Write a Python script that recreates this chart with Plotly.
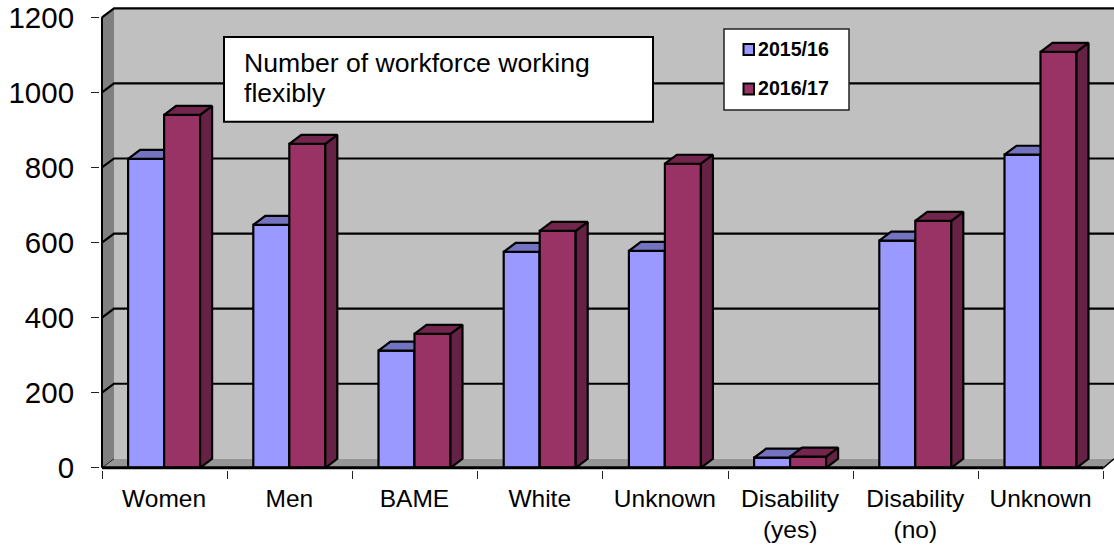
import plotly.graph_objects as go

categories = ["Women", "Men", "BAME", "White", "Unknown", "Disability<br>(yes)", "Disability<br>(no)", "Unknown"]
series_2015 = [823, 647, 312, 575, 578, 27, 605, 834]
series_2016 = [940, 863, 357, 631, 810, 30, 658, 1108]
y_ticks = [0, 200, 400, 600, 800, 1000, 1200]
series_names = ["2015/16", "2016/17"]
title_lines = ["Number of workforce working", "flexibly"]

FONT = "Liberation Sans"
W, H = 1114, 545
PX_CAT = 125.2      # pixels per category
PX_UNIT = 0.3758    # pixels per value unit
X0, Y0 = 102.0, 468.3

DX = 12 / PX_CAT    # depth of the 3-D effect
DY = 9 / PX_UNIT
BAR_W = 36 / PX_CAT
CENTER = 0.496
LW = 2.2

xmin, xmax = -2 / PX_CAT, (W - X0) / PX_CAT
ymin, ymax = -2.2 / PX_UNIT, (Y0 - 5) / PX_UNIT
n = len(categories)


def px(v):
    return (v - X0) / PX_CAT


def py(v):
    return (Y0 - v) / PX_UNIT


def path(points):
    return "M " + " L ".join(f"{a:.4f} {b:.4f}" for a, b in points) + " Z"


BLUE = ("#9999FF", "#7373BF", "#4D4D80")
MAROON = ("#993366", "#73264D", "#662244")

fig = go.Figure()


def add_series(values, name, colors, offset, xa, ya):
    centers = [i + CENTER for i in range(n)]
    fig.add_trace(go.Bar(
        x=centers, y=values, width=BAR_W, offset=offset, name=name,
        marker=dict(color=colors[0], line=dict(color="black", width=LW)),
        xaxis=xa, yaxis=ya, showlegend=False,
        customdata=[c.replace("<br>", " ") for c in categories],
        hovertemplate="%{customdata}: %{y}<extra>" + name + "</extra>",
    ))
    for c, v in zip(centers, values):
        l, r = c + offset, c + offset + BAR_W
        top = [(l, v), (l + DX, v + DY), (r + DX, v + DY), (r, v), (l, v)]
        side = [(r, 0), (r + DX, DY), (r + DX, v + DY), (r, v), (r, 0)]
        for pts, col in ((side, colors[2]), (top, colors[1])):
            fig.add_trace(go.Scatter(
                x=[p[0] for p in pts], y=[p[1] for p in pts], mode="lines",
                fill="toself", fillcolor=col, line=dict(color="black", width=LW),
                xaxis=xa, yaxis=ya, showlegend=False, hoverinfo="skip",
            ))


add_series(series_2015, series_names[0], BLUE, -BAR_W, "x", "y")
add_series(series_2016, series_names[1], MAROON, 0, "x2", "y2")

shapes = [
    dict(type="path", path=path([(DX, DY), (xmax, DY), (xmax, y_ticks[-1] + DY), (DX, y_ticks[-1] + DY)]),
         fillcolor="#C0C0C0", line=dict(width=0), layer="below"),
    dict(type="path", path=path([(0, 0), (DX, DY), (DX, y_ticks[-1] + DY), (0, y_ticks[-1])]),
         fillcolor="#808080", line=dict(width=0), layer="below"),
    dict(type="path", path=path([(0, 0), (n, 0), (xmax, DY), (DX, DY)]),
         fillcolor="#969696", line=dict(width=0), layer="below"),
]
for t in y_ticks[1:]:
    shapes.append(dict(type="path", path=f"M 0 {t} L {DX} {t + DY} L {xmax} {t + DY}",
                       line=dict(color="black", width=LW), layer="below"))
shapes.append(dict(type="line", x0=0, y0=0, x1=DX, y1=DY,
                   line=dict(color="#222222", width=1), layer="below"))
shapes.append(dict(type="line", x0=n, y0=0, x1=xmax, y1=DY,
                   line=dict(color="black", width=1.5), layer="below"))
# front spines
shapes.append(dict(type="line", x0=0, y0=0, x1=0, y1=y_ticks[-1],
                   line=dict(color="black", width=2), layer="above"))
shapes.append(dict(type="line", x0=0, y0=0, x1=n, y1=0,
                   line=dict(color="black", width=3), layer="above"))
# title box
shapes.append(dict(type="rect", x0=px(224), x1=px(653), y0=py(122), y1=py(37),
                   fillcolor="white", line=dict(color="black", width=2), layer="above"))
# legend box and swatches
shapes.append(dict(type="rect", x0=px(724), x1=px(849), y0=py(110), y1=py(29),
                   fillcolor="white", line=dict(color="#222222", width=1.5), layer="above"))
for (top_px, col) in ((44, BLUE[0]), (83.5, MAROON[0])):
    shapes.append(dict(type="rect", x0=px(743.5), x1=px(754), y0=py(top_px + 11), y1=py(top_px),
                       fillcolor=col, line=dict(color="black", width=2), layer="above"))

annotations = [
    dict(x=px(245), y=py(63), text=title_lines[0], showarrow=False, xanchor="left", yanchor="middle",
         font=dict(family=FONT, size=26.6, color="black"), xshift=-3),
    dict(x=px(245), y=py(93), text=title_lines[1], showarrow=False, xanchor="left", yanchor="middle",
         font=dict(family=FONT, size=26.6, color="black"), xshift=-3),
    dict(x=px(758), y=py(49.5), text=f"<b>{series_names[0]}</b>", showarrow=False,
         xanchor="left", yanchor="middle", font=dict(family=FONT, size=19.6, color="black"), xshift=-2),
    dict(x=px(758), y=py(88.5), text=f"<b>{series_names[1]}</b>", showarrow=False,
         xanchor="left", yanchor="middle", font=dict(family=FONT, size=19.6, color="black"), xshift=-2),
]

common_x = dict(range=[xmin, xmax], showgrid=False, zeroline=False, showline=False)
common_y = dict(range=[ymin, ymax], showgrid=False, zeroline=False, showline=False)

fig.update_layout(
    width=W, height=H, autosize=False,
    margin=dict(l=X0 - 2, r=0, t=5, b=H - (Y0 + 2.2), pad=0),
    paper_bgcolor="white", plot_bgcolor="white",
    barmode="overlay", showlegend=False,
    font=dict(family=FONT, color="black"),
    shapes=shapes, annotations=annotations,
    xaxis=dict(**common_x, tickmode="array", tickvals=list(range(n + 1)),
               ticktext=[""] * (n + 1), ticks="outside", ticklen=8, tickwidth=1, tickcolor="#222222"),
    xaxis2=dict(**common_x, overlaying="x", anchor="y2", side="bottom", tickmode="array",
                tickvals=[i + CENTER for i in range(n)], ticktext=categories, ticks="",
                tickangle=0, tickfont=dict(family=FONT, size=24.5, color="black"), ticklabelstandoff=11),
    yaxis=dict(**common_y, tickmode="array", tickvals=y_ticks, ticktext=[str(t) for t in y_ticks],
               ticks="outside", ticklen=8, tickwidth=1, tickcolor="#222222",
               tickfont=dict(family=FONT, size=29.5, color="black"), ticklabelstandoff=11),
    yaxis2=dict(**common_y, overlaying="y", anchor="x2", side="left", showticklabels=False),
)

fig.write_html("out.html", config={"displayModeBar": False},
               post_script="document.body.style.margin='0';")
